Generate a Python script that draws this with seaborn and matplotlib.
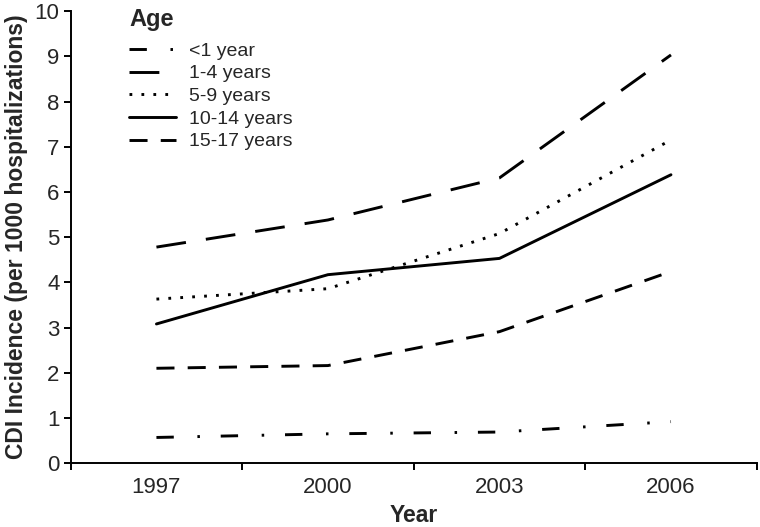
import matplotlib
matplotlib.use('Agg')
import matplotlib.pyplot as plt
import pandas as pd
import seaborn as sns


YEARS = ['1997', '2000', '2003', '2006']
AGE_GROUPS = ['<1 year', '1-4 years', '5-9 years', '10-14 years', '15-17 years']
INCIDENCE = {
    '<1 year': [0.57, 0.65, 0.69, 0.92],
    '1-4 years': [4.78, 5.38, 6.31, 9.03],
    '5-9 years': [3.63, 3.86, 5.08, 7.15],
    '10-14 years': [3.08, 4.17, 4.53, 6.38],
    '15-17 years': [2.10, 2.16, 2.91, 4.24],
}

# dash patterns in points (dash scaling switched off below)
DASHES = {
    '<1 year': (12.5, 17, 1.8, 15),
    '1-4 years': (21.5, 14.5),
    '5-9 years': (2.0, 6.6),
    '10-14 years': '',
    '15-17 years': (13, 9.5),
}


if __name__ == '__main__':
    df = pd.DataFrame([
        {'Year': y, 'Age': g, 'Incidence': v}
        for g in AGE_GROUPS
        for y, v in zip(YEARS, INCIDENCE[g])
    ])

    sns.set_style('ticks')
    plt.rcParams['font.family'] = ['Liberation Sans', 'DejaVu Sans']
    plt.rcParams['lines.scale_dashes'] = False

    fig = plt.figure(figsize=(7.6, 5.27), dpi=100)
    ax = fig.add_axes([0.093, 0.121, 0.9027, 0.858])

    sns.lineplot(data=df, x='Year', y='Incidence', hue='Age', style='Age',
                 hue_order=AGE_GROUPS, style_order=AGE_GROUPS,
                 palette=['black'] * len(AGE_GROUPS), dashes=DASHES,
                 linewidth=2.1, ax=ax)

    ax.set_xlim(-0.5, 3.5)
    ax.set_ylim(0, 10)
    ax.set_yticks(range(0, 11))
    ax.set_xticks(range(len(YEARS)))
    ax.set_xticklabels(YEARS)
    ax.set_xticks([-0.5, 0.5, 1.5, 2.5, 3.5], minor=True)
    ax.tick_params(axis='x', which='major', length=0, labelsize=16, pad=10)
    ax.tick_params(axis='x', which='minor', length=5, width=1.4, color='black')
    ax.tick_params(axis='y', length=5, width=1.4, color='black', labelsize=16, pad=3)

    for s in ['top', 'right']:
        ax.spines[s].set_visible(False)
    for s in ['left', 'bottom']:
        ax.spines[s].set_linewidth(1.4)
        ax.spines[s].set_color('black')

    ax.set_xlabel('Year', fontsize=16.5, fontweight='bold', labelpad=4)
    ax.set_ylabel('CDI Incidence (per 1000 hospitalizations)', fontsize=16.5,
                  fontweight='bold', labelpad=5)

    handles, labels = ax.get_legend_handles_labels()
    leg = ax.legend(handles, labels, title='Age', frameon=False,
                    loc='upper left', bbox_to_anchor=(129 / 760, 1 - 8 / 527),
                    bbox_transform=fig.transFigure, borderaxespad=0, borderpad=0,
                    fontsize=14, handlelength=2.4, handletextpad=0.7,
                    labelspacing=0.26, alignment='left',
                    title_fontproperties={'weight': 'bold', 'size': 17})
    leg._legend_box.sep = 8
    for line in leg.get_lines():
        line.set_linewidth(2.1)

    plt.savefig('out.png', dpi=100)
